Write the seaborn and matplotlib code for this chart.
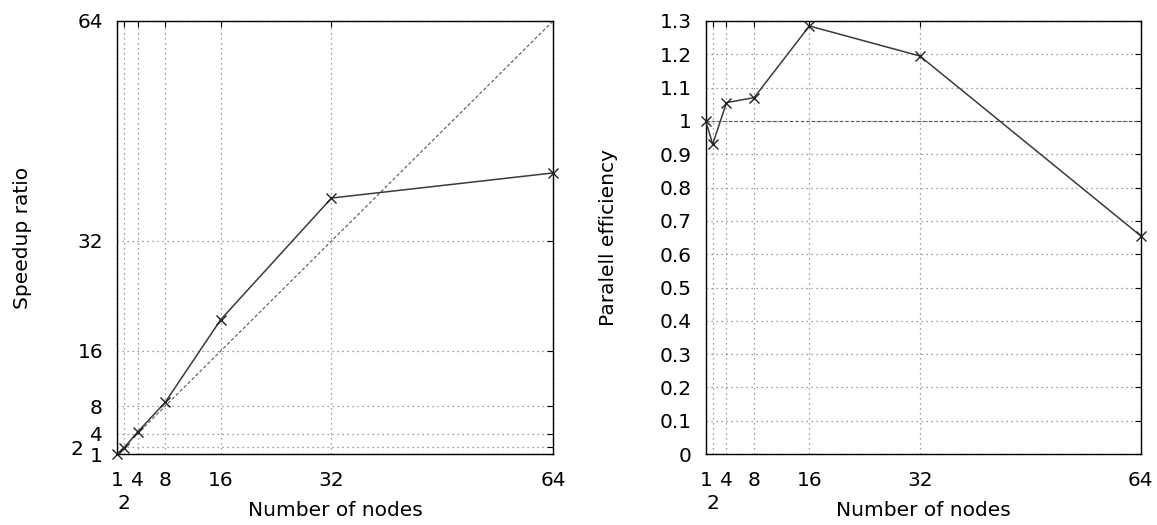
import matplotlib
matplotlib.use("Agg")
import matplotlib.pyplot as plt
import seaborn as sns
import pandas as pd

nodes = [1, 2, 4, 8, 16, 32, 64]
speedup = [1.0, 1.86, 4.22, 8.56, 20.56, 38.25, 41.9]
efficiency = [1.0, 0.93, 1.055, 1.07, 1.285, 1.195, 0.655]
major_x = [1, 4, 8, 16, 32, 64]
speedup_ticks = [1, 4, 8, 16, 32, 64]
eff_ticks = [0, 0.1, 0.2, 0.3, 0.4, 0.5, 0.6, 0.7, 0.8, 0.9, 1, 1.1, 1.2, 1.3]

sns.set_style("white")
plt.rcParams['font.family'] = ['DejaVu Sans']

df = pd.DataFrame({"nodes": nodes, "speedup": speedup, "eff": efficiency})

fig = plt.figure(figsize=(11.57, 5.25), dpi=100)
ax1 = fig.add_axes([0.101, 0.135, 0.377, 0.825])
ax2 = fig.add_axes([0.610, 0.135, 0.376, 0.825])

FS = 14.5
grid_kw = dict(color="#808080", linestyle=(0, (1, 3)), linewidth=0.9, zorder=0)


def style_axis(ax):
    for s in ax.spines.values():
        s.set_color("black")
        s.set_linewidth(1.0)
    ax.tick_params(which="both", direction="in", top=True, right=True,
                   length=4, width=0.8, labelsize=FS, colors="black")
    ax.set_xlim(1, 64)
    ax.set_xticks(major_x)
    ax.set_xticklabels([str(v) for v in major_x])
    ax.set_xticks([2], minor=True)
    ax.set_xticklabels(["2"], minor=True)
    ax.tick_params(axis="x", which="minor", pad=29)
    ax.tick_params(axis="x", which="major", pad=12.5)
    for v in nodes:
        ax.axvline(v, **grid_kw)


# speedup panel
style_axis(ax1)
ax1.set_ylim(1, 64)
ax1.set_yticks(speedup_ticks)
ax1.set_yticklabels([str(v) for v in speedup_ticks])
ax1.set_yticks([2], minor=True)
ax1.set_yticklabels(["2"], minor=True)
ax1.tick_params(axis="y", which="minor", pad=24)
ax1.tick_params(axis="y", which="major", pad=10)
for v in [2] + speedup_ticks:
    ax1.axhline(v, **grid_kw)
ax1.plot([1, 64], [1, 64], color="#555555", linestyle=(0, (3, 2)), linewidth=0.8, zorder=1)
sns.lineplot(data=df, x="nodes", y="speedup", ax=ax1, color="#3a3a3a", linewidth=1.1,
             marker="x", markersize=7, markeredgecolor="#222222", markeredgewidth=1.0, zorder=3)
ax1.set_xlabel("Number of nodes", fontsize=FS, color="black")
ax1.set_ylabel("Speedup ratio", fontsize=FS, color="black")
ax1.xaxis.set_label_coords(0.5, -0.108)
ax1.yaxis.set_label_coords(-0.195, 0.5)

# efficiency panel
style_axis(ax2)
ax2.set_ylim(0, 1.3)
ax2.set_yticks(eff_ticks)
ax2.set_yticklabels([f"{v:g}" for v in eff_ticks])
ax2.tick_params(axis="y", which="major", pad=10)
for v in eff_ticks:
    ax2.axhline(v, **grid_kw)
ax2.axhline(1.0, color="#555555", linestyle=(0, (3, 2)), linewidth=0.8, zorder=1)
sns.lineplot(data=df, x="nodes", y="eff", ax=ax2, color="#3a3a3a", linewidth=1.1,
             marker="x", markersize=7, markeredgecolor="#222222", markeredgewidth=1.0, zorder=3)
ax2.set_xlabel("Number of nodes", fontsize=FS, color="black")
ax2.set_ylabel("Paralell efficiency", fontsize=FS, color="black")
ax2.xaxis.set_label_coords(0.5, -0.108)
ax2.yaxis.set_label_coords(-0.202, 0.5)

for ax in (ax1, ax2):
    for ln in ax.lines:
        ln.set_clip_on(False)

fig.savefig("out.png", dpi=100)
